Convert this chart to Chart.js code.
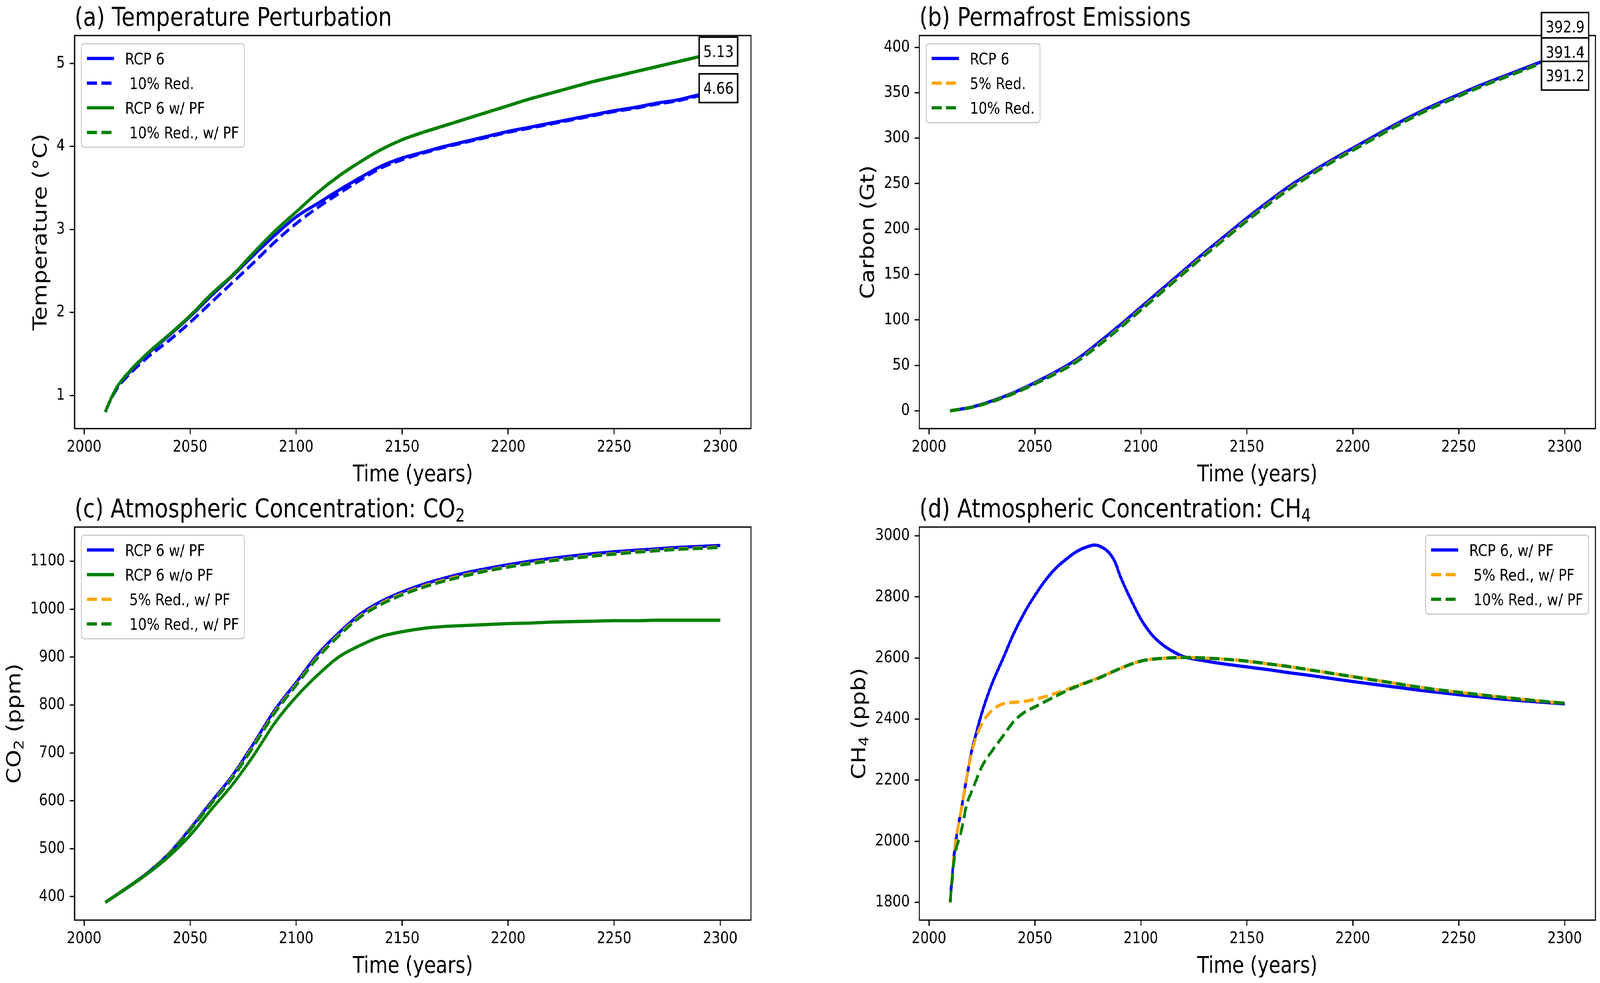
<!DOCTYPE html>
<html><head><meta charset="utf-8">
<script src="https://cdn.jsdelivr.net/npm/chart.js@4.4.0/dist/chart.umd.min.js"></script>
<style>
html,body{margin:0;padding:0;background:#fff;overflow:hidden;}
#fig{position:absolute;left:0;top:0;width:4892px;height:2516px;transform-origin:0 0;background:#fff;}
canvas{position:absolute;}
</style></head><body>
<div id="fig">
<canvas id="cA" width="2446" height="1258" style="left:0px;top:0px;width:2446px;height:1258px"></canvas>
<canvas id="cB" width="2446" height="1258" style="left:2446px;top:0px;width:2446px;height:1258px"></canvas>
<canvas id="cC" width="2446" height="1258" style="left:0px;top:1258px;width:2446px;height:1258px"></canvas>
<canvas id="cD" width="2446" height="1258" style="left:2446px;top:1258px;width:2446px;height:1258px"></canvas>
</div>
<script>
// fit the 4892x2516 design to the actual viewport
(function () {
  const sx = window.innerWidth / 4892, sy = window.innerHeight / 2516;
  const fig = document.getElementById('fig');
  fig.style.transform = 'scale(' + sx + ',' + sy + ')';
  document.body.style.width = window.innerWidth + 'px';
  document.body.style.height = window.innerHeight + 'px';
})();

// ---------------- DATA ----------------
const years = [2010,2020,2030,2040,2050,2060,2070,2080,2090,2100,2110,2120,2130,2140,2150,2160,2170,2180,2190,2200,2210,2220,2230,2240,2250,2260,2270,2280,2290,2300];
const yearsT = [2010,2013,2016,2020,2030,2040,2050,2060,2070,2080,2090,2100,2110,2120,2130,2140,2150,2160,2170,2180,2190,2200,2210,2220,2230,2240,2250,2260,2270,2280,2290,2300];

// (a) Temperature perturbation (°C)
const tempRcp6      = [0.80,0.98,1.12,1.24,1.50,1.72,1.95,2.20,2.44,2.69,2.93,3.15,3.31,3.47,3.62,3.76,3.86,3.93,4.00,4.06,4.12,4.18,4.23,4.28,4.33,4.38,4.43,4.47,4.52,4.56,4.62,4.66];
const tempRed10     = [0.80,0.97,1.10,1.22,1.46,1.66,1.88,2.12,2.36,2.60,2.85,3.07,3.26,3.43,3.59,3.74,3.84,3.92,3.99,4.05,4.11,4.17,4.22,4.27,4.32,4.37,4.42,4.46,4.51,4.55,4.61,4.66];
const tempRcp6PF    = [0.80,0.98,1.12,1.25,1.51,1.73,1.96,2.22,2.45,2.72,2.98,3.21,3.44,3.64,3.81,3.96,4.08,4.17,4.25,4.33,4.41,4.49,4.57,4.64,4.71,4.78,4.84,4.90,4.96,5.02,5.08,5.13];
const tempRed10PF   = [0.80,0.98,1.12,1.25,1.51,1.73,1.96,2.22,2.45,2.72,2.98,3.21,3.44,3.64,3.81,3.96,4.08,4.17,4.25,4.33,4.41,4.49,4.57,4.64,4.71,4.78,4.84,4.90,4.96,5.02,5.08,5.13];

// (b) Permafrost emissions (Gt C)
const pfRcp6  = [0,4,11,20,31,43,57,75,94,114,134,154,174,193,212,230,247,262,276,289,302,315,327,338,348,358,367,376,385,392.9];
const pfRed5  = [0,3.8,10.5,19.3,30,41.5,55,72.5,91.5,111.5,131.5,151.5,171.5,190.5,209.5,227.5,244.5,259.8,274,287,300,313,325.2,336.3,346.4,356.5,365.6,374.6,383.6,391.4];
const pfRed10 = [0,3.7,10.3,19,29.6,41,54.4,71.8,90.8,110.8,130.8,150.8,170.8,189.8,208.8,226.8,243.8,259.2,273.4,286.5,299.6,312.6,324.9,336,346.1,356.2,365.3,374.3,383.3,391.2];

// (c) CO2 concentration (ppm)
const co2PF      = [388,418,450,490,542,598,653,720,790,847,905,950,989,1016,1036,1052,1065,1076,1085,1093,1100,1106,1111,1116,1120,1123,1126,1129,1131,1133];
const co2NoPF    = [388,417,448,484,528,582,634,695,763,817,862,900,924,943,953,960,964,966,968,970,971,973,974,975,976,976,977,977,977,977];
const co2Red5PF  = [388,418,449,489,540,595,650,716,786,843,900,946,985,1012,1032,1048,1061,1072,1081,1089,1096,1102,1107,1112,1116,1120,1123,1126,1128,1130];
const co2Red10PF = [388,418,449,488,539,594,648,714,784,841,898,944,983,1010,1030,1046,1059,1070,1080,1088,1095,1101,1106,1111,1115,1119,1122,1125,1127,1129];

// (d) CH4 concentration (ppb)
const yearsCH4 = [2010,2012,2015,2018,2020,2022,2025,2030,2035,2040,2045,2050,2055,2060,2065,2070,2075,2078,2080,2085,2088,2090,2095,2100,2105,2110,2115,2120,2130,2140,2150,2160,2170,2180,2190,2200,2210,2220,2230,2240,2250,2260,2270,2280,2290,2300];
const ch4PF      = [1800,1965,2093,2215,2290,2345,2421,2520,2599,2680,2748,2805,2855,2895,2925,2950,2965,2970,2968,2945,2912,2873,2796,2728,2678,2645,2622,2605,2591,2580,2571,2562,2552,2543,2533,2523,2514,2505,2496,2488,2480,2473,2466,2460,2455,2450];
const ch4Red5PF  = [1800,1965,2093,2215,2285,2335,2385,2430,2450,2455,2458,2465,2474,2485,2497,2510,2522,2530,2535,2550,2559,2565,2579,2590,2596,2599,2601,2602,2600,2596,2590,2581,2572,2561,2550,2539,2528,2517,2506,2496,2488,2480,2472,2465,2458,2452];
const ch4Red10PF = [1800,1945,2025,2125,2160,2195,2245,2298,2345,2392,2422,2440,2458,2476,2493,2508,2521,2529,2534,2550,2559,2565,2579,2590,2596,2599,2601,2602,2600,2596,2590,2581,2572,2561,2550,2539,2528,2517,2506,2496,2488,2480,2472,2465,2458,2452];

// tick labels
const xTicks      = [2000,2050,2100,2150,2200,2250,2300];
const tempTicks   = [1,2,3,4,5];
const carbonTicks = [0,50,100,150,200,250,300,350,400];
const co2Ticks    = [400,500,600,700,800,900,1000,1100];
const ch4Ticks    = [1800,2000,2200,2400,2600,2800,3000];

// end-value annotations
const annTempText = ['5.13','4.66'];
const annTempX    = [2292,2292];
const annTempY    = [5.075,4.633];
const annPfText   = ['392.9','391.4','391.2'];
const annPfX      = [2291,2291,2291];
const annPfY      = [416.2,388.3,362.5];

// ---------------- STYLE / LAYOUT ----------------
const FONT = '"DejaVu Sans"';
const TICK_FS = 41.67, LABEL_FS = 58.33, TITLE_FS = 66.67;
const LW = 8.33, DASH = [30.8, 13.3];
const BLUE = '#0000ff', GREEN = '#008000', ORANGE = '#ffa500';
const CW = 2446, CH = 1258;
const TL = 14.58; // tick length & pad

function ser(label, xs, ys, color, dashed) {
  return { label, data: xs.map((x, i) => ({ x, y: ys[i] })), borderColor: color, backgroundColor: color,
    borderWidth: LW, borderDash: dashed ? DASH : [], pointRadius: 0, fill: false,
    cubicInterpolationMode: 'monotone', borderCapStyle: 'butt', borderJoinStyle: 'round' };
}

function drawRich(ctx, parts, x, y, size, align) {
  const segs = parts.map(p => ({ t: p.t, s: p.sub ? size * 0.7 : size, dy: p.sub ? size * 0.16 : 0 }));
  let total = 0;
  segs.forEach(s => { ctx.font = s.s + 'px ' + FONT; s.w = ctx.measureText(s.t).width; total += s.w; });
  let cx = align === 'center' ? x - total / 2 : x;
  ctx.textAlign = 'left'; ctx.textBaseline = 'alphabetic';
  segs.forEach(s => { ctx.font = s.s + 'px ' + FONT; ctx.fillText(s.t, cx, y + s.dy); cx += s.w; });
}

function roundRect(ctx, x, y, w, h, r) {
  ctx.beginPath();
  ctx.moveTo(x + r, y); ctx.lineTo(x + w - r, y); ctx.arcTo(x + w, y, x + w, y + r, r);
  ctx.lineTo(x + w, y + h - r); ctx.arcTo(x + w, y + h, x + w - r, y + h, r);
  ctx.lineTo(x + r, y + h); ctx.arcTo(x, y + h, x, y + h - r, r);
  ctx.lineTo(x, y + r); ctx.arcTo(x, y, x + r, y, r); ctx.closePath();
}

const decorCfg = {};
const decor = {
  id: 'decor',
  afterDraw(chart) {
    const cfg = decorCfg[chart.canvas.id]; if (!cfg) return;
    const ctx = chart.ctx, a = chart.chartArea;
    ctx.save();
    ctx.fillStyle = '#000';
    ctx.strokeStyle = '#000'; ctx.lineWidth = 3.33; ctx.setLineDash([]);
    ctx.strokeRect(a.left, a.top, a.right - a.left, a.bottom - a.top);
    drawRich(ctx, cfg.title, a.left, a.top - 25, TITLE_FS, 'left');
    drawRich(ctx, cfg.xlabel, (a.left + a.right) / 2, a.bottom + 135, LABEL_FS, 'center');
    ctx.font = TICK_FS + 'px ' + FONT;
    let maxW = 0;
    chart.scales.y.ticks.forEach(t => { maxW = Math.max(maxW, ctx.measureText(String(t.value)).width); });
    const baseX = a.left - 2 * TL - maxW - 16.67 - 0.236 * LABEL_FS;
    ctx.save();
    ctx.translate(baseX, (a.top + a.bottom) / 2);
    ctx.rotate(-Math.PI / 2);
    drawRich(ctx, cfg.ylabel, 0, 0, LABEL_FS, 'center');
    ctx.restore();
    // legend
    const ds = chart.data.datasets;
    ctx.font = TICK_FS + 'px ' + FONT;
    let tw = 0; ds.forEach(d => { tw = Math.max(tw, ctx.measureText(d.label).width); });
    const bp = 16.67, hl = 83.33, htp = 33.33, rowGap = 63.1, first = 37.85;
    const bw = 2 * bp + hl + htp + tw;
    const bh = 2 * first + (ds.length - 1) * rowGap;
    const bx = cfg.legend === 'ur' ? a.right - 20.83 - bw : a.left + 20.83;
    const by = a.top + 20.83;
    roundRect(ctx, bx, by, bw, bh, 8.33);
    ctx.fillStyle = 'rgba(255,255,255,0.8)'; ctx.fill();
    ctx.strokeStyle = '#cccccc'; ctx.lineWidth = 3.33; ctx.stroke();
    ds.forEach((d, i) => {
      const cy = by + first + i * rowGap;
      ctx.beginPath(); ctx.strokeStyle = d.borderColor; ctx.lineWidth = LW;
      ctx.setLineDash(d.borderDash || []); ctx.lineCap = 'butt';
      ctx.moveTo(bx + bp, cy); ctx.lineTo(bx + bp + hl, cy); ctx.stroke();
      ctx.setLineDash([]);
      ctx.fillStyle = '#000'; ctx.font = TICK_FS + 'px ' + FONT;
      ctx.textAlign = 'left'; ctx.textBaseline = 'alphabetic';
      ctx.fillText(d.label, bx + bp + hl + htp, cy + 0.729 * TICK_FS / 2);
    });
    // annotations
    if (cfg.ann) {
      const xs = chart.scales.x, ys = chart.scales.y;
      cfg.ann.text.forEach((t, i) => {
        const px = xs.getPixelForValue(cfg.ann.x[i]);
        const py = ys.getPixelForValue(cfg.ann.y[i]);
        ctx.font = TICK_FS + 'px ' + FONT;
        const w = ctx.measureText(t).width, pad = 12.5;
        const l = px - pad, r = px + w + pad, tp = py - 0.928 * TICK_FS - pad, bt = py + 0.236 * TICK_FS + pad;
        ctx.fillStyle = '#fff'; ctx.fillRect(l, tp, r - l, bt - tp);
        ctx.strokeStyle = '#000'; ctx.lineWidth = 4; ctx.strokeRect(l, tp, r - l, bt - tp);
        ctx.fillStyle = '#000'; ctx.textAlign = 'left'; ctx.textBaseline = 'alphabetic';
        ctx.fillText(t, px, py);
      });
    }
    ctx.restore();
  }
};

function makeChart(id, left, right, datasets, yMin, yMax, yTicks, cfg) {
  decorCfg[id] = cfg;
  const n = datasets.length;
  datasets.forEach((d, i) => { d.order = n - i; });
  const tickOpts = (arr) => ({
    afterBuildTicks: s => { s.ticks = arr.map(v => ({ value: v })); }
  });
  return new Chart(document.getElementById(id), {
    type: 'line',
    data: { datasets },
    plugins: [decor],
    options: {
      responsive: false, animation: false, devicePixelRatio: 1,
      layout: { padding: { left: 0, top: 91, right: CW - right, bottom: 0 } },
      plugins: { legend: { display: false }, title: { display: false }, tooltip: { enabled: false } },
      scales: {
        x: Object.assign({
          type: 'linear', min: 1995.5, max: 2314.5,
          afterFit: s => { s.height = CH - 1097; },
          grid: { drawOnChartArea: false, drawTicks: true, tickLength: TL, tickWidth: 3.33, tickColor: '#000', color: '#000' },
          border: { display: false },
          ticks: { autoSkip: false, maxRotation: 0, padding: 8.4, color: '#000',
            font: { family: 'DejaVu Sans', size: TICK_FS }, callback: v => String(v) }
        }, tickOpts(xTicks)),
        y: Object.assign({
          type: 'linear', min: yMin, max: yMax,
          afterFit: s => { s.width = left; },
          grid: { drawOnChartArea: false, drawTicks: true, tickLength: TL, tickWidth: 3.33, tickColor: '#000', color: '#000' },
          border: { display: false },
          ticks: { autoSkip: false, padding: TL, color: '#000',
            font: { family: 'DejaVu Sans', size: TICK_FS }, callback: v => String(v) }
        }, tickOpts(yTicks))
      }
    }
  });
}

const T = s => ({ t: s });
const S = s => ({ t: s, sub: true });

makeChart('cA', 228, 2296, [
  ser('RCP 6', yearsT, tempRcp6, BLUE, false),
  ser(' 10% Red.', yearsT, tempRed10, BLUE, true),
  ser('RCP 6 w/ PF', yearsT, tempRcp6PF, GREEN, false),
  ser(' 10% Red., w/ PF', yearsT, tempRed10PF, GREEN, true)
], 0.6, 5.335, tempTicks, {
  title: [T('(a) Temperature Perturbation')], xlabel: [T('Time (years)')], ylabel: [T('Temperature (°C)')],
  legend: 'ul', ann: { text: annTempText, x: annTempX, y: annTempY }
});

makeChart('cB', 365, 2432, [
  ser('RCP 6', years, pfRcp6, BLUE, false),
  ser('5% Red.', years, pfRed5, ORANGE, true),
  ser('10% Red.', years, pfRed10, GREEN, true)
], -19.6, 412.9, carbonTicks, {
  title: [T('(b) Permafrost Emissions')], xlabel: [T('Time (years)')], ylabel: [T('Carbon (Gt)')],
  legend: 'ul', ann: { text: annPfText, x: annPfX, y: annPfY }
});

makeChart('cC', 228, 2296, [
  ser('RCP 6 w/ PF', years, co2PF, BLUE, false),
  ser('RCP 6 w/o PF', years, co2NoPF, GREEN, false),
  ser(' 5% Red., w/ PF', years, co2Red5PF, ORANGE, true),
  ser(' 10% Red., w/ PF', years, co2Red10PF, GREEN, true)
], 351, 1171.5, co2Ticks, {
  title: [T('(c) Atmospheric Concentration: CO'), S('2')], xlabel: [T('Time (years)')], ylabel: [T('CO'), S('2'), T(' (ppm)')],
  legend: 'ul'
});

makeChart('cD', 365, 2432, [
  ser('RCP 6, w/ PF', yearsCH4, ch4PF, BLUE, false),
  ser(' 5% Red., w/ PF', yearsCH4, ch4Red5PF, ORANGE, true),
  ser(' 10% Red., w/ PF', yearsCH4, ch4Red10PF, GREEN, true)
], 1741.8, 3029, ch4Ticks, {
  title: [T('(d) Atmospheric Concentration: CH'), S('4')], xlabel: [T('Time (years)')], ylabel: [T('CH'), S('4'), T(' (ppb)')],
  legend: 'ur'
});
</script>
</body></html>
